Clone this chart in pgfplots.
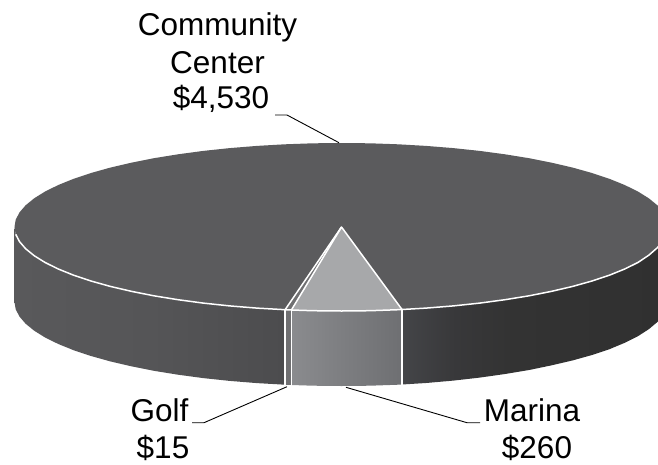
\documentclass[border=0pt]{standalone}
\usepackage{pgfplots}
\pgfplotsset{compat=1.18}
\usepackage{fontspec}
\setmainfont{Liberation Sans}
\definecolor{topface}{HTML}{5B5B5D}
\definecolor{marinatop}{HTML}{A7A8AA}
\definecolor{golfface}{HTML}{707072}
\definecolor{la}{HTML}{59595B}
\definecolor{lb}{HTML}{555557}
\definecolor{lc}{HTML}{4C4C4E}
\definecolor{ma}{HTML}{8A8B8E}
\definecolor{mb}{HTML}{6E6F72}
\definecolor{ra}{HTML}{444548}
\definecolor{rb}{HTML}{38383A}
\definecolor{rc}{HTML}{333333}
\definecolor{rd}{HTML}{303030}
% Wall shadings: the path's box spans 25bp to 75bp of each shading.
\pgfdeclarehorizontalshading{leftwall}{100bp}{
  color(0bp)=(la); color(25bp)=(la);
  color(50bp)=(lb); color(75bp)=(lc); color(100bp)=(lc)}
\pgfdeclarehorizontalshading{marinawall}{100bp}{
  color(0bp)=(ma); color(25bp)=(ma);
  color(75bp)=(mb); color(100bp)=(mb)}
\pgfdeclarehorizontalshading{rightwall}{100bp}{
  color(0bp)=(ra); color(25bp)=(ra);
  color(35bp)=(rb); color(45bp)=(rc);
  color(75bp)=(rd); color(100bp)=(rd)}
\begin{document}
\begin{tikzpicture}
\useasboundingbox (0,0) rectangle (658pt,464pt);
\begin{axis}[
  at={(0,0)}, anchor=south west,
  width=658pt, height=464pt, scale only axis,
  xmin=0, xmax=658, ymin=0, ymax=464, y dir=reverse,
  hide axis, no markers, clip=true,
  every axis plot/.append style={forget plot},
]
% Outer wall left of the slices
\addplot[shading=leftwall, draw=none] coordinates {
 (14.5,227) (15.7,234.3) (19.5,241.6) (25.6,248.7) (34.2,255.7) (45.1,262.5)
 (58.3,269) (73.6,275.2) (91,281) (110.3,286.4) (131.3,291.3) (153.9,295.8)
 (178,299.7) (203.3,303.1) (229.7,305.9) (256.9,308.1) (285.1,309.7)
 (285.1,384.7) (256.9,383.1) (229.7,380.9) (203.3,378.1) (178,374.7)
 (153.9,370.8) (131.3,366.3) (110.3,361.4) (91,356) (73.6,350.2) (58.3,344)
 (45.1,337.5) (34.2,330.7) (25.6,323.7) (19.5,316.6) (15.7,309.3) (14.5,302)
} --cycle;
% Golf wall
\addplot[fill=golfface, draw=none] coordinates {
 (285.1,309.7) (291.4,310) (291.4,385) (285.1,384.7)
} --cycle;
% Marina wall
\addplot[shading=marinawall, draw=none] coordinates {
 (291.4,310) (313,310.7) (341.5,311) (370,310.7) (398.3,309.7) (402,309.5)
 (402,384.5) (398.3,384.7) (370,385.7) (341.5,386) (313,385.7) (291.4,385)
} --cycle;
% Outer wall right of the slices
\addplot[shading=rightwall, draw=none] coordinates {
 (402,309.5) (426.1,308.1) (453.3,305.9) (479.7,303.1) (505,299.7) (529.1,295.8)
 (551.7,291.3) (572.7,286.4) (592,281) (609.4,275.2) (624.7,269) (637.9,262.5)
 (648.8,255.2) (657.4,247.7) (663.5,240.6) (667.3,233.3) (668.5,226)
 (668.5,300) (667.3,307.3) (663.5,314.6) (657.4,322) (648.8,329.2) (637.9,336.2)
 (624.7,342.8) (609.4,349.2) (592,355) (572.7,360.4) (551.7,365.3) (529.1,370)
 (505,374) (479.7,377.6) (453.3,380.6) (426.1,383) (402,384.5)
} --cycle;
% Top face: Community Center sector
\addplot[fill=topface, draw=none] coordinates {
 (341.5,227) (402,309.5) (426.1,308.1) (453.3,305.9) (479.7,303.1) (505,299.7)
 (529.1,295.8) (551.7,291.3) (572.7,286.4) (592,281) (609.4,275.2) (624.7,269)
 (637.9,262.5) (648.8,255.2) (657.4,247.7) (663.5,240.6) (667.3,233.3) (668.5,226)
 (667.3,219.7) (663.5,212.4) (657.4,205.3) (648.8,198.3) (637.9,191.5) (624.7,185)
 (609.4,178.8) (592,173) (572.7,167.6) (551.7,162.7) (529.1,158.2) (505,154.3)
 (479.7,150.9) (453.3,148.1) (426.1,145.9) (398.3,144.3) (370,143.3) (341.5,143)
 (313,143.3) (284.7,144.3) (256.9,145.9) (229.7,148.1) (203.3,150.9) (178,154.3)
 (153.9,158.2) (131.3,162.7) (110.3,167.6) (91,173) (73.6,178.8) (58.3,185)
 (45.1,191.5) (34.2,198.3) (25.6,205.3) (19.5,212.4) (15.7,219.7) (14.5,227)
 (15.7,234.3) (19.5,241.6) (25.6,248.7) (34.2,255.7) (45.1,262.5) (58.3,269)
 (73.6,275.2) (91,281) (110.3,286.4) (131.3,291.3) (153.9,295.8) (178,299.7)
 (203.3,303.1) (229.7,305.9) (256.9,308.1) (285.1,309.7)
} --cycle;
% Top face: Golf and Marina sectors
\addplot[fill=golfface, draw=none] coordinates {(341.5,227) (285.1,309.7) (291.4,310)} --cycle;
\addplot[fill=marinatop, draw=none] coordinates {
 (341.5,227) (291.4,310) (313,310.7) (341.5,311) (370,310.7) (398.3,309.7) (402,309.5)
} --cycle;
% White slice edges: rim, radii and wall seams
\addplot[white, line width=1.5pt] coordinates {
 (15.7,234.3) (19.5,241.6) (25.6,248.7) (34.2,255.7) (45.1,262.5) (58.3,269)
 (73.6,275.2) (91,281) (110.3,286.4) (131.3,291.3) (153.9,295.8) (178,299.7)
 (203.3,303.1) (229.7,305.9) (256.9,308.1) (285.1,309.7) (291.4,310) (313,310.7)
 (341.5,311) (370,310.7) (398.3,309.7) (402,309.5) (426.1,308.1) (453.3,305.9)
 (479.7,303.1) (505,299.7) (529.1,295.8) (551.7,291.3) (572.7,286.4) (592,281)
 (609.4,275.2) (624.7,269) (637.9,262.5) (648.8,255.2) (657.4,247.7) (663.5,240.6)
};
\addplot[white, line width=1.5pt, line join=round] coordinates {(402,309.5) (341.5,227) (291.4,310)};
\addplot[white, line width=1.5pt] coordinates {(341.5,227) (285.1,309.7)};
\addplot[white, line width=1.5pt] coordinates {(285.1,309.7) (285.1,385)};
\addplot[white, line width=1.5pt] coordinates {(291.4,310) (291.4,385.5)};
\addplot[white, line width=1.2pt] coordinates {(402,309.5) (402,385)};
% Leader lines
\addplot[black, line width=0.9pt] coordinates {(275,115) (287,115) (339,142.7)};
\addplot[black, line width=0.9pt] coordinates {(192,422.7) (204,422.7) (287,386.7)};
\addplot[black, line width=0.9pt] coordinates {(346,387.3) (467,422.7) (480,422.7)};
% Slice labels
\def\lab#1#2#3{\node[anchor=base, inner sep=0pt, font=\fontsize{31.5}{34}\selectfont] at (axis cs:#1,#2) {#3};}
\lab{217.5}{35}{Community}
\lab{217.5}{73}{Center}
\lab{221}{108}{\$4,530}
\lab{159.5}{421.7}{Golf}
\lab{163}{458}{\$15}
\lab{532}{421.7}{Marina}
\lab{537}{458}{\$260}
\end{axis}
\end{tikzpicture}
\end{document}
